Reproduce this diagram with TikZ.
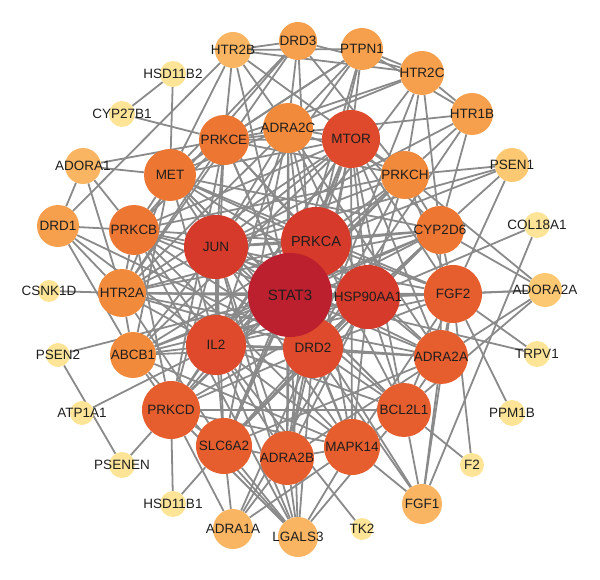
\documentclass[tikz,border=0pt]{standalone}
\usepackage{fontspec}
\setmainfont{Liberation Sans}
\pgfdeclarelayer{background}
\pgfsetlayers{background,main}
\definecolor{cA}{HTML}{BC1F2D}
\definecolor{cB}{HTML}{D63A2A}
\definecolor{cC}{HTML}{DE4A2B}
\definecolor{cD}{HTML}{E65E2E}
\definecolor{cE}{HTML}{ED7633}
\definecolor{cF}{HTML}{F28A3C}
\definecolor{cG}{HTML}{F6A04E}
\definecolor{cH}{HTML}{FAB562}
\definecolor{cI}{HTML}{FCC872}
\definecolor{cJ}{HTML}{FDE496}
\definecolor{edgegray}{HTML}{8A8A8A}
\definecolor{txt}{HTML}{1E1E1E}
\tikzset{
  gnode/.style={circle, draw=none, inner sep=0pt},
  gtext/.style={text=txt, font=\fontsize{13.5}{14}\selectfont, inner sep=0pt},
  edge/.style={draw=edgegray, line width=1.8pt}
}
\newcommand\gn[6]{\node[gnode, minimum size=#4pt, fill=#5] (#1) at (#2,#3) {};
  \node[gtext] (#1-t) at (#1.center) {#6};}
\begin{document}
\begin{tikzpicture}[x=1pt,y=-1pt]
\useasboundingbox (0,0) rectangle (600,580);
% core
\gn{PRKCA}{316}{242}{70}{cB}{\fontsize{14.5}{15}\selectfont PRKCA}
\gn{HSP90AA1}{368}{297}{64}{cB}{HSP90AA1}
\gn{JUN}{216}{247}{64}{cB}{JUN}
\gn{IL2}{216}{345}{60}{cC}{IL2}
\gn{DRD2}{313}{348}{60}{cC}{DRD2}
\gn{MTOR}{351}{139}{58}{cC}{MTOR}
\gn{STAT3}{290}{295}{84}{cA}{\fontsize{15}{16}\selectfont STAT3}
% medium
\gn{PRKCE}{224}{140}{50}{cE}{PRKCE}
\gn{ADRA2C}{288}{128}{50}{cF}{ADRA2C}
\gn{MET}{170}{175}{52}{cE}{MET}
\gn{PRKCB}{134}{230}{50}{cE}{PRKCB}
\gn{HTR2A}{122}{293}{48}{cF}{HTR2A}
\gn{ABCB1}{133}{355}{46}{cF}{ABCB1}
\gn{PRKCD}{171}{410}{58}{cD}{PRKCD}
\gn{SLC6A2}{224}{446}{56}{cD}{SLC6A2}
\gn{ADRA2B}{287}{458}{54}{cD}{ADRA2B}
\gn{MAPK14}{352}{447}{56}{cD}{MAPK14}
\gn{BCL2L1}{404}{410}{54}{cD}{BCL2L1}
\gn{ADRA2A}{441}{357}{54}{cD}{ADRA2A}
\gn{FGF2}{453}{294}{58}{cD}{FGF2}
\gn{CYP2D6}{440}{230}{48}{cE}{CYP2D6}
\gn{PRKCH}{405}{175}{48}{cF}{PRKCH}
% outer
\gn{HTR1B}{472}{114}{42}{cG}{HTR1B}
\gn{HTR2C}{422}{73}{44}{cG}{HTR2C}
\gn{PTPN1}{362}{49}{42}{cG}{PTPN1}
\gn{DRD3}{298}{41}{38}{cG}{DRD3}
\gn{HTR2B}{233}{50}{36}{cH}{HTR2B}
\gn{HSD11B2}{173}{74}{26}{cJ}{HSD11B2}
\gn{CYP27B1}{122}{114}{26}{cJ}{CYP27B1}
\gn{ADORA1}{83}{166}{36}{cH}{ADORA1}
\gn{DRD1}{58}{226}{42}{cG}{DRD1}
\gn{CSNK1D}{49}{291}{22}{cJ}{CSNK1D}
\gn{PSEN2}{58}{355}{24}{cJ}{PSEN2}
\gn{ATP1A1}{82}{413}{24}{cJ}{ATP1A1}
\gn{PSENEN}{122}{465}{26}{cJ}{PSENEN}
\gn{HSD11B1}{173}{504}{26}{cJ}{HSD11B1}
\gn{ADRA1A}{233}{529}{40}{cH}{ADRA1A}
\gn{LGALS3}{298}{537}{40}{cH}{LGALS3}
\gn{TK2}{362}{529}{22}{cJ}{TK2}
\gn{FGF1}{422}{504}{40}{cH}{FGF1}
\gn{F2}{472}{465}{24}{cJ}{F2}
\gn{PPM1B}{512}{413}{26}{cJ}{PPM1B}
\gn{TRPV1}{537}{354}{26}{cJ}{TRPV1}
\gn{ADORA2A}{545}{290}{34}{cI}{ADORA2A}
\gn{COL18A1}{537}{225}{26}{cJ}{COL18A1}
\gn{PSEN1}{512}{165}{34}{cI}{PSEN1}
\begin{pgfonlayer}{background}
% core complete
\foreach \a/\b in {STAT3/PRKCA,STAT3/JUN,STAT3/HSP90AA1,STAT3/IL2,STAT3/DRD2,STAT3/MTOR,
 PRKCA/JUN,PRKCA/HSP90AA1,PRKCA/IL2,PRKCA/DRD2,PRKCA/MTOR,JUN/HSP90AA1,JUN/IL2,JUN/DRD2,JUN/MTOR,
 HSP90AA1/IL2,HSP90AA1/DRD2,HSP90AA1/MTOR,IL2/DRD2,IL2/MTOR,DRD2/MTOR}
  \draw[edge] (\a) -- (\b);
% core x medium
\foreach \a in {STAT3,PRKCA,JUN,HSP90AA1,IL2,DRD2,MTOR}
 \foreach \b in {PRKCE,ADRA2C,MET,PRKCB,HTR2A,ABCB1,PRKCD,SLC6A2,ADRA2B,MAPK14,BCL2L1,ADRA2A,FGF2,CYP2D6,PRKCH}
  \draw[edge] (\a) -- (\b);
% medium x medium
\foreach \a/\b in {PRKCE/ADRA2C,PRKCE/MET,PRKCE/PRKCB,PRKCE/PRKCH,PRKCE/PRKCD,PRKCE/HTR2A,
 ADRA2C/PRKCH,ADRA2C/ADRA2A,ADRA2C/ADRA2B,ADRA2C/HTR2A,ADRA2C/SLC6A2,MET/PRKCB,MET/HTR2A,MET/FGF2,
 MET/ABCB1,MET/BCL2L1,PRKCB/HTR2A,PRKCB/PRKCD,PRKCB/PRKCH,PRKCB/MAPK14,HTR2A/ABCB1,HTR2A/SLC6A2,
 HTR2A/ADRA2A,HTR2A/FGF2,HTR2A/CYP2D6,ABCB1/PRKCD,ABCB1/CYP2D6,ABCB1/MAPK14,PRKCD/SLC6A2,
 PRKCD/MAPK14,PRKCD/PRKCH,PRKCD/BCL2L1,SLC6A2/ADRA2B,SLC6A2/ADRA2A,SLC6A2/CYP2D6,ADRA2B/MAPK14,
 ADRA2B/ADRA2A,MAPK14/BCL2L1,MAPK14/FGF2,BCL2L1/ADRA2A,BCL2L1/FGF2,ADRA2A/FGF2,ADRA2A/CYP2D6,
 FGF2/CYP2D6,FGF2/PRKCH,CYP2D6/PRKCH,CYP2D6/MET}
  \draw[edge] (\a) -- (\b);
% outer
\foreach \a/\b in {HSD11B2/CYP27B1,HSD11B2/MET,CYP27B1/PRKCE,
 ADORA1/PRKCE,ADORA1/MET,ADORA1/DRD1,ADORA1/HTR2A,ADORA1/PRKCB,
 DRD1/HTR2B,DRD1/HTR2A,DRD1/IL2,DRD1/DRD2,DRD1/ABCB1,DRD1/PRKCB,
 CSNK1D/HTR2A,PSEN2/PSENEN,PSEN2/STAT3,ATP1A1/IL2,PSENEN/PRKCD,
 HSD11B1/PRKCD,HSD11B1/SLC6A2,
 ADRA1A/PRKCD,ADRA1A/SLC6A2,ADRA1A/ADRA2B,ADRA1A/MAPK14,ADRA1A/DRD2,ADRA1A/HSP90AA1,
 LGALS3/ADRA2B,LGALS3/SLC6A2,LGALS3/PRKCD,LGALS3/IL2,LGALS3/JUN,LGALS3/STAT3,LGALS3/MAPK14,
 LGALS3/BCL2L1,LGALS3/PRKCB,LGALS3/DRD2,LGALS3/ABCB1,
 TK2/IL2,FGF1/MAPK14,FGF1/DRD2,FGF1/STAT3,FGF1/BCL2L1,FGF1/ADRA2A,FGF1/FGF2,FGF1/COL18A1,
 F2/BCL2L1,F2/FGF2,PPM1B/FGF2,TRPV1/FGF2,TRPV1/STAT3,
 ADORA2A/FGF2,ADORA2A/HSP90AA1,ADORA2A/CYP2D6,ADORA2A/PRKCH,ADORA2A/ADRA2A,ADORA2A/BCL2L1,
 COL18A1/HSP90AA1,PSEN1/PRKCH,PSEN1/CYP2D6,PSEN1/PRKCA,PSEN1/FGF2,PSEN1/JUN,
 HTR1B/HTR2C,HTR1B/PTPN1,HTR1B/PRKCE,HTR1B/JUN,HTR1B/CYP2D6,HTR1B/PRKCH,HTR1B/DRD2,
 HTR2C/PTPN1,HTR2C/PRKCH,HTR2C/CYP2D6,HTR2C/MET,HTR2C/PRKCE,HTR2C/DRD3,HTR2C/IL2,HTR2C/DRD2,
 PTPN1/MTOR,PTPN1/PRKCA,PTPN1/STAT3,PTPN1/PRKCE,PTPN1/MET,PTPN1/JUN,PTPN1/HTR2B,PTPN1/ADRA2C,
 DRD3/HTR2B,DRD3/ADRA2C,DRD3/PRKCH,DRD3/MET,DRD3/PRKCB,DRD3/DRD2,DRD3/HTR2A,
 HTR2B/PRKCE,HTR2B/MET,HTR2B/PRKCH,HTR2B/HTR2C,HTR2B/ADRA2C,HTR2B/STAT3}
  \draw[edge] (\a) -- (\b);
\end{pgfonlayer}
\end{tikzpicture}
\end{document}
